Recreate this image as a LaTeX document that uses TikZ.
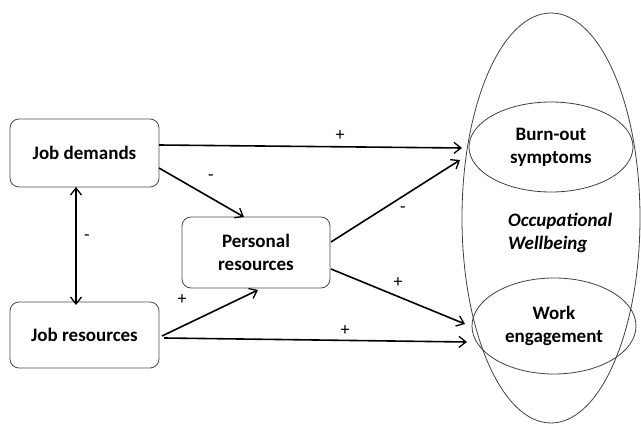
\documentclass[tikz,border=0pt]{standalone}
\usepackage{fontspec}
\setmainfont{Carlito}
\usetikzlibrary{shapes.geometric,arrows.meta}
\begin{document}
\begin{tikzpicture}[x=1pt,y=-1pt,
  box/.style={draw=black!70,rounded corners=9pt,line width=0.8pt,font=\fontsize{19}{23}\selectfont\bfseries,align=center,inner sep=0pt},
  ell/.style={draw=black!75,ellipse,line width=0.8pt,inner sep=0pt,font=\fontsize{19}{23}\selectfont\bfseries,align=center},
  tip/.tip={Straight Barb[length=7pt,width=11pt,line width=1.3pt]},
  arr/.style={-tip,line width=1.6pt},
  lbl/.style={font=\fontsize{18}{20}\selectfont,inner sep=0pt}]
\useasboundingbox (0,0) rectangle (641,425);
\node[box,minimum width=149pt,minimum height=68pt] (jd) at (84.5,153) {Job demands};
\node[box,minimum width=149pt,minimum height=66pt] (jr) at (84.5,335) {Job resources};
\node[box,minimum width=148pt,minimum height=71pt] (pr) at (256,252.5) {Personal\\resources};
\node[ell,minimum width=178pt,minimum height=410pt] (ow) at (551,218) {};
\node[ell,minimum width=164pt,minimum height=90pt] (bo) at (551,147) {Burn-out\\symptoms};
\node[ell,minimum width=164pt,minimum height=96pt] (we) at (554,326) {Work\\engagement};
\node[font=\fontsize{19}{23}\selectfont\bfseries\itshape,align=left,anchor=west,inner sep=0pt] (owt) at (508,233) {Occupational\\Wellbeing};
\coordinate (a1s) at (159,145);
\coordinate (a1e) at (462,148);
\draw[arr] (a1s) -- (a1e);
\coordinate (a2s) at (159,168);
\coordinate (a2e) at (244,217);
\draw[arr] (a2s) -- (a2e);
\coordinate (a3s) at (76,187);
\coordinate (a3e) at (76,305);
\draw[tip-tip,line width=1.6pt] (a3s) -- (a3e);
\coordinate (a4s) at (162,336);
\coordinate (a4e) at (258,290);
\draw[arr] (a4s) -- (a4e);
\coordinate (a5s) at (164,338);
\coordinate (a5e) at (467,342);
\draw[arr] (a5s) -- (a5e);
\coordinate (a6s) at (331,242);
\coordinate (a6e) at (460,160);
\draw[arr] (a6s) -- (a6e);
\coordinate (a7s) at (331,269);
\coordinate (a7e) at (465,324);
\draw[arr] (a7s) -- (a7e);
\node[lbl] (l1) at (340,136) {+};
\node[lbl] (l2) at (211,178) {-};
\node[lbl] (l3) at (87,238) {-};
\node[lbl] (l4) at (182,300) {+};
\node[lbl] (l5) at (345,331) {+};
\node[lbl] (l6) at (403,210) {-};
\node[lbl] (l7) at (398,283) {+};
\end{tikzpicture}
\end{document}
